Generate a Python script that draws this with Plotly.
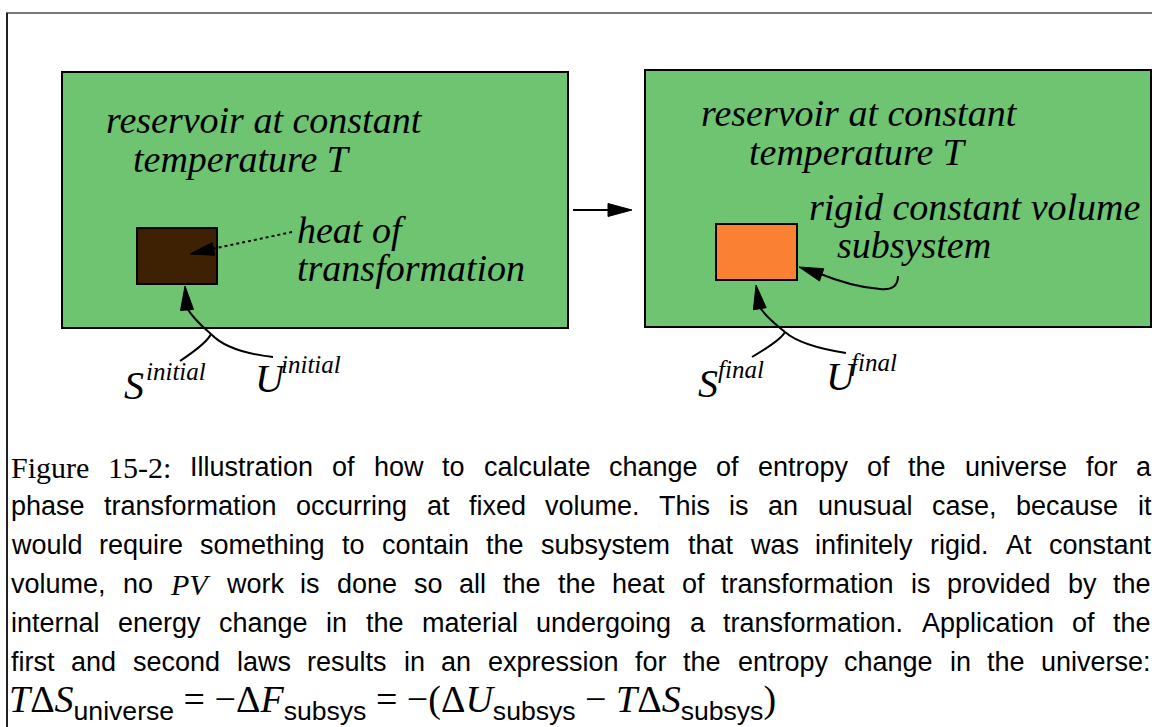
import plotly.graph_objects as go

W, H = 1152, 727

# ---- data (labels / text) ----
reservoir_lines = ["reservoir at constant", "temperature T"]
heat_lines = ["heat of", "transformation"]
subsystem_lines = ["rigid constant volume", "subsystem"]
state_symbols = ["S", "U"]
state_initial = ["initial", "initial"]
state_final = ["final", "final"]
caption_lines = [
    "Figure 15-2: Illustration of how to calculate change of entropy of the universe for a",
    "phase transformation occurring at fixed volume. This is an unusual case, because it",
    "would require something to contain the subsystem that was infinitely rigid. At constant",
    "volume, no PV work is done so all the the heat of transformation is provided by the",
    "internal energy change in the material undergoing a transformation. Application of the",
    "first and second laws results in an expression for the entropy change in the universe:",
]
serif_words = ["Figure", "15-2:"]
math_words = ["PV"]
SANS_SPAN = "<span style=\"font-family:'Liberation Sans'\">"
formula = (
    "<i>T</i>Δ<i>S</i><sub>" + SANS_SPAN + "universe</span></sub>"
    " = −Δ<i>F</i><sub>" + SANS_SPAN + "subsys</span></sub>"
    " = −(Δ<i>U</i><sub>" + SANS_SPAN + "subsys</span></sub>"
    " − <i>T</i>Δ<i>S</i><sub>" + SANS_SPAN + "subsys</span></sub>)"
)

GREEN = "rgb(110,196,112)"
BROWN = "rgb(62,33,2)"
ORANGE = "rgb(250,128,52)"
SERIF = "Liberation Serif"
SANS = "Liberation Sans"

# approximate advance widths (1/1000 em) used to justify caption lines
ARIAL = dict(zip("abcdefghijklmnopqrstuvwxyz",
                 [556, 556, 500, 556, 556, 278, 556, 556, 222, 222, 500, 222, 833,
                  556, 556, 556, 556, 333, 500, 278, 556, 500, 722, 500, 500, 500]))
ARIAL.update({"A": 667, "I": 278, "T": 611, ".": 278, ",": 278, ":": 278, "-": 333})
TIMES = {"F": 556, "i": 278, "g": 500, "u": 500, "r": 333, "e": 444,
         "1": 500, "5": 500, "-": 333, "2": 500, ":": 278, "P": 611, "V": 611}

fig = go.Figure()
fig.add_trace(go.Scatter(x=[0], y=[0], mode="markers", marker=dict(opacity=0), hoverinfo="skip", showlegend=False))

shapes = []
ann = []

def rect(x0, y0, x1, y1, fill, lw=2, color="black"):
    shapes.append(dict(type="rect", x0=x0, y0=y0, x1=x1, y1=y1, xref="x", yref="y",
                       fillcolor=fill, line=dict(color=color, width=lw), layer="above"))

def path(d, lw=2, dash="solid", fill=None):
    s = dict(type="path", path=d, xref="x", yref="y", line=dict(color="black", width=lw, dash=dash), layer="above")
    if fill:
        s["fillcolor"] = fill
    shapes.append(s)

def head(tip, base, length=24, half=6.5):
    tx, ty = tip
    bx, by = base
    dx, dy = bx - tx, by - ty
    n = (dx * dx + dy * dy) ** 0.5
    ux, uy = dx / n, dy / n
    mx, my = tx + ux * length, ty + uy * length
    px, py = -uy * half, ux * half
    d = f"M {tx} {ty} L {mx+px:.1f} {my+py:.1f} L {mx-px:.1f} {my-py:.1f} Z"
    path(d, lw=1, fill="black")

def text(x, y, s, size, family=SERIF, style="italic", anchor="left"):
    ann.append(dict(x=x, y=y, xref="x", yref="y", text=s, showarrow=False, xanchor=anchor, yanchor="middle",
                    borderpad=0, borderwidth=0,
                    font=dict(family=family, size=size, color="black", style=style)))

# outer frame
shapes.append(dict(type="line", x0=6, y0=13, x1=W + 5, y1=13, xref="x", yref="y", line=dict(color="#777", width=2)))
shapes.append(dict(type="line", x0=7, y0=13, x1=7, y1=H + 5, xref="x", yref="y", line=dict(color="#222", width=2)))

# boxes
rect(62, 72, 568, 328, GREEN)
rect(645, 70, 1151, 327, GREEN)
rect(137, 228, 217, 284, BROWN)
rect(716, 224, 797, 280, ORANGE)

# middle arrow
path("M 573 210 L 612 210")
head((632, 210), (573, 210))

# left arrows
path("M 292 232 L 212 249", dash="dot")
head((190, 254), (292, 232))
path("M 180 361 Q 207 343 211 334")
path("M 273 357 Q 228 352 211 334")
path("M 211 334 Q 192 318 186 306")
head((185, 286), (187, 310))

# right arrows
path("M 752 357 Q 781 340 785 332")
path("M 846 353 Q 801 346 785 332")
path("M 785 332 Q 765 316 759 306")
head((756, 285), (760, 310))
path("M 898 276 Q 898 291 880 289 Q 852 287 818 273")
head((799, 267), (822, 275))

# texts in boxes
FS = 38
text(106, 120, reservoir_lines[0], FS)
text(133, 159, reservoir_lines[1], FS)
text(701, 113, reservoir_lines[0], FS)
text(749, 152, reservoir_lines[1], FS)
text(297, 230, heat_lines[0], FS)
text(297, 268, heat_lines[1], FS)
text(809, 207, subsystem_lines[0], FS)
text(837, 245, subsystem_lines[1], FS)

# state labels
text(124, 385, state_symbols[0], 40)
text(146, 371, state_initial[0], 25)
text(255, 378, state_symbols[1], 40)
text(281, 364, state_initial[1], 25)
text(698, 383, state_symbols[0], 40)
text(718, 369, state_final[0], 25)
text(826, 376, state_symbols[1], 40)
text(851, 362, state_final[1], 25)

# caption (justified word by word)
CFS = 27
SFS = 30
L, R = 11, 1151
cap_y = [467, 506, 545, 584, 623, 662]
for yy, line in zip(cap_y, caption_lines):
    words = line.split()
    kinds = []
    widths = []
    for w in words:
        if w in serif_words:
            kinds.append("serif")
            widths.append(sum(TIMES.get(c, 500) for c in w) * SFS / 1000)
        elif w in math_words:
            kinds.append("math")
            widths.append(sum(TIMES.get(c, 600) for c in w) * SFS / 1000 + 3)
        else:
            kinds.append("sans")
            widths.append(sum(ARIAL.get(c, 556) for c in w) * CFS / 1000)
    gap = (R - L - sum(widths)) / (len(words) - 1)
    x = L
    for w, k, wd in zip(words, kinds, widths):
        if k == "sans":
            text(x, yy, w, CFS, family=SANS, style="normal")
        elif k == "serif":
            text(x, yy, w, SFS, family=SERIF, style="normal")
        else:
            text(x, yy, w, SFS, family=SERIF, style="italic")
        x += wd + gap

ann.append(dict(x=9, y=702, xref="x", yref="y", text=formula, showarrow=False, xanchor="left", yanchor="middle",
                borderpad=0, borderwidth=0, font=dict(family=SERIF, size=38, color="black")))

fig.update_layout(
    width=W, height=H, margin=dict(l=0, r=0, t=0, b=0),
    paper_bgcolor="white", plot_bgcolor="white",
    xaxis=dict(range=[0, W], visible=False, fixedrange=True),
    yaxis=dict(range=[H, 0], visible=False, fixedrange=True),
    shapes=shapes, annotations=ann, showlegend=False,
)
fig.write_html("out.html", config={"displayModeBar": False, "staticPlot": True},
               post_script="document.body.style.margin='0px';")
